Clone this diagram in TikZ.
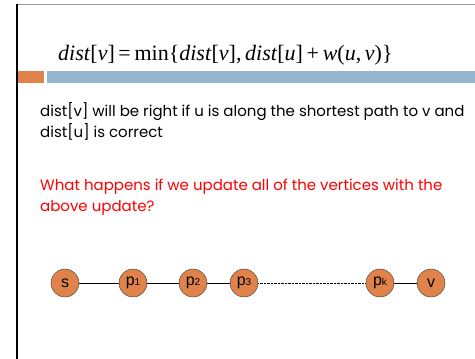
\documentclass[tikz,border=0pt]{standalone}
\usepackage{fontspec}
\usepackage{xcolor}
\setmainfont{Liberation Serif}
\newfontfamily\bodyfont{Poppins}
\newfontfamily\nodefont{Liberation Sans}
\definecolor{slideorange}{RGB}{224,131,74}
\definecolor{slideblue}{RGB}{148,181,208}
\definecolor{slidered}{RGB}{255,0,0}

\tikzset{
  vertex/.style={circle,draw=black!80,fill=slideorange,minimum size=28pt,inner sep=0pt,font=\nodefont\fontsize{16}{16}\selectfont},
  bodytext/.style={anchor=base west,inner sep=0pt,font=\bodyfont\fontsize{15}{21}\selectfont,align=left},
}
\newcommand{\sub}[1]{{\fontsize{10}{10}\selectfont #1}}

\begin{document}
\begin{tikzpicture}[x=1pt,y=-1pt]
\useasboundingbox (0,0) rectangle (475,359);
% slide frame
\draw[black!40,line width=1pt] (16,4) -- (475,4);
\draw[black,line width=2pt] (17,4) -- (17,359);
% title bar
\fill[slideorange] (18,71) rectangle (44,83);
\fill[slideblue] (47,71) rectangle (475,83);
% update rule
\node[anchor=base west,inner sep=0pt,font=\fontsize{22}{22}\selectfont] (rule) at (58,60)
  {\textit{dist}[\textit{v}]\,=\,min\{\textit{dist}[\textit{v}],\,\textit{dist}[\textit{u}]\,+\,\textit{w}(\textit{u},\,\textit{v})\}};
% text (base is the last line)
\node[bodytext] (note) at (40,137) {dist[v] will be right if u is along the shortest path to v and\\dist[u] is correct};
\node[bodytext,text=slidered] (question) at (40,211) {What happens if we update all of the vertices with the\\above update?};
% path s -> v
\node[vertex] (s) at (65,283) {s};
\node[vertex] (p1) at (133,283) {p\sub{1}};
\node[vertex] (p2) at (193,283) {p\sub{2}};
\node[vertex] (p3) at (244,283) {p\sub{3}};
\node[vertex] (pk) at (380,283) {p\sub{k}};
\node[vertex] (v) at (431,283) {v};
\draw (s) -- (p1) -- (p2) -- (p3);
\draw[densely dotted] (p3) -- (pk);
\draw (pk) -- (v);
\end{tikzpicture}
\end{document}
